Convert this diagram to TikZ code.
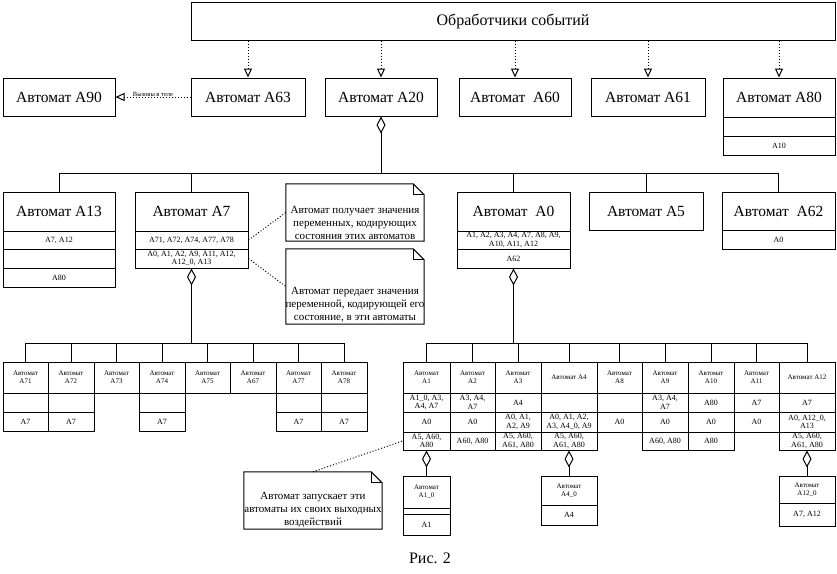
\documentclass[tikz,border=0pt]{standalone}
\usepackage{fontspec}
\setmainfont{Liberation Serif}
\usetikzlibrary{arrows.meta}
\tikzset{every node/.append style={transform shape=false}}
\tikzset{
  wire/.style={line width=1pt},
  cellbox/.style={draw, line width=1pt, inner sep=0.5pt, align=center},
  titlecell/.style={font=\fontsize{15.5}{17}\selectfont},
  headcell/.style={font=\fontsize{16}{18}\selectfont},
  listcell/.style={font=\fontsize{8}{8.5}\selectfont},
  namecell/.style={font=\fontsize{7}{8}\selectfont},
  notetext/.style={anchor=south, align=center, inner sep=1.5pt, font=\fontsize{11}{13}\selectfont},
  call/.style={wire, dotted, -{Triangle[open,width=8pt,length=9pt]}},
  agg/.style={wire, {Diamond[open,width=9pt,length=17pt]}-},
}
\newcommand{\cell}[7][]{%
  \pgfmathsetmacro{\cellw}{#5-#3}%
  \pgfmathsetmacro{\cellh}{#6-#4}%
  \node[cellbox, #1, minimum width=\cellw pt, minimum height=\cellh pt] (#2) at ({(#3+#5)/2},{(#4+#6)/2}) {#7};}
\newcommand{\commentbox}[6]{%
  \pgfmathsetmacro{\cellw}{#4-#2}%
  \pgfmathsetmacro{\cellh}{#5-#3}%
  \node[minimum width=\cellw pt, minimum height=\cellh pt, inner sep=0pt,
    label={[notetext]south:{#6}}] (#1) at ({(#2+#4)/2},{(#3+#5)/2}) {};
  \draw[wire] (#1.south west) -- (#1.north west) -- ([xshift=-11pt]#1.north east)
    -- ([yshift=-11pt]#1.north east) -- (#1.south east) -- cycle;
  \draw[wire] ([xshift=-11pt]#1.north east) |- ([yshift=-11pt]#1.north east);}

\begin{document}
\begin{tikzpicture}[x=1pt,y=-1pt]
\useasboundingbox (0,0) rectangle (837,573);
\cell[headcell]{handlers}{191}{2}{835}{40}{Обработчики событий}
% first row
\cell[titlecell]{a90}{3}{78}{115}{116}{Автомат A90}
\cell[titlecell]{a63}{191}{78}{305}{116}{Автомат A63}
\cell[titlecell]{a20}{325}{78}{437}{116}{Автомат A20}
\cell[titlecell]{a60}{459}{78}{571}{116}{Автомат\ \ A60}
\cell[titlecell]{a61}{591}{78}{705}{116}{Автомат A61}
\cell[titlecell]{a80}{723}{78}{835}{117}{Автомат A80}
\cell[listcell]{a80r1}{723}{117}{835}{136}{}
\cell[listcell]{a80r2}{723}{136}{835}{155}{A10}
\draw[call] (handlers.south -| a63.north) -- (a63.north);
\draw[call] (handlers.south -| a20.north) -- (a20.north);
\draw[call] (handlers.south -| a60.north) -- (a60.north);
\draw[call] (handlers.south -| a61.north) -- (a61.north);
\draw[call] (handlers.south -| a80.north) -- (a80.north);
\draw[call] (a63.west) -- node[above=-1pt, inner sep=1pt, font=\fontsize{6.5}{7}\selectfont] (calllabel) {Вызовы в теле} (a90.east);
% second row
\cell[titlecell]{a13}{3}{192}{115}{231}{Автомат A13}
\cell[listcell]{a13r1}{3}{231}{115}{249}{A7, A12}
\cell[listcell]{a13r2}{3}{249}{115}{268}{}
\cell[listcell]{a13r3}{3}{268}{115}{287}{A80}
\cell[titlecell]{a7}{135}{192}{248}{231}{Автомат A7}
\cell[listcell]{a7r1}{135}{231}{248}{249}{A71, A72, A74, A77, A78}
\cell[listcell]{a7r2}{135}{249}{248}{268}{A0, A1, A2, A9, A11, A12,\\A12\_0, A13}
\cell[titlecell]{a0}{457}{192}{570}{231}{Автомат\ \ A0}
\cell[listcell]{a0r1}{457}{231}{570}{249}{A1, A2, A3, A4, A7, A8, A9,\\A10, A11, A12}
\cell[listcell]{a0r2}{457}{249}{570}{268}{A62}
\cell[titlecell]{a5}{589}{192}{703}{230}{Автомат A5}
\cell[titlecell]{a62}{722}{192}{835}{230}{Автомат\ \ A62}
\cell[listcell]{a62r1}{722}{230}{835}{249}{A0}
\coordinate (bus1) at (381,173);
\draw[agg] (a20.south) -- (bus1);
\draw[wire] (a13.north) |- (bus1);
\draw[wire] (a7.north) |- (bus1);
\draw[wire] (a0.north) |- (bus1);
\draw[wire] (a5.north) |- (bus1);
\draw[wire] (a62.north) |- (bus1);
% notes
\commentbox{note1}{286}{184}{424}{241}{Автомат получает значения\\переменных, кодирующих\\состояния этих автоматов}
\commentbox{note2}{286}{249}{424}{324}{Автомат передает значения\\переменной, кодирующей его\\состояние, в эти автоматы}
\commentbox{note3}{244}{472}{382}{529}{Автомат запускает эти\\автоматы их своих выходных\\воздействий}
\draw[wire, dotted] (a7r1.east) -- (note1.west);
\draw[wire, dotted] (a7r2.east) -- (note2.west);
% children of A7
\cell[namecell]{a71}{3}{362}{48}{393}{Автомат\\A71}
\cell[listcell]{a71r1}{3}{393}{48}{412}{}
\cell[listcell]{a71r2}{3}{412}{48}{431}{A7}
\cell[namecell]{a72}{48}{362}{94}{393}{Автомат\\A72}
\cell[listcell]{a72r1}{48}{393}{94}{412}{}
\cell[listcell]{a72r2}{48}{412}{94}{431}{A7}
\cell[namecell]{a73}{94}{362}{139}{393}{Автомат\\A73}
\cell[namecell]{a74}{139}{362}{185}{393}{Автомат\\A74}
\cell[listcell]{a74r1}{139}{393}{185}{412}{}
\cell[listcell]{a74r2}{139}{412}{185}{431}{A7}
\cell[namecell]{a75}{185}{362}{230}{393}{Автомат\\A75}
\cell[namecell]{a67}{230}{362}{276}{393}{Автомат\\A67}
\cell[namecell]{a77}{276}{362}{321}{393}{Автомат\\A77}
\cell[listcell]{a77r1}{276}{393}{321}{412}{}
\cell[listcell]{a77r2}{276}{412}{321}{431}{A7}
\cell[namecell]{a78}{321}{362}{367}{393}{Автомат\\A78}
\cell[listcell]{a78r1}{321}{393}{367}{412}{}
\cell[listcell]{a78r2}{321}{412}{367}{431}{A7}
\coordinate (bus2) at (191.5,343);
\draw[agg] (a7r2.south) -- (bus2);
\draw[wire] (a71.north) |- (bus2);
\draw[wire] (a72.north) |- (bus2);
\draw[wire] (a73.north) |- (bus2);
\draw[wire] (a74.north) |- (bus2);
\draw[wire] (a75.north) |- (bus2);
\draw[wire] (a67.north) |- (bus2);
\draw[wire] (a77.north) |- (bus2);
\draw[wire] (a78.north) |- (bus2);
% children of A0
\cell[namecell]{a1}{403}{362}{450}{393}{Автомат\\A1}
\cell[listcell]{a1r1}{403}{393}{450}{412}{A1\_0, A3,\\A4, A7}
\cell[listcell]{a1r2}{403}{412}{450}{432}{A0}
\cell[listcell]{a1r3}{403}{432}{450}{450}{A5, A60,\\A80}
\cell[namecell]{a2}{450}{362}{495}{393}{Автомат\\A2}
\cell[listcell]{a2r1}{450}{393}{495}{412}{A3, A4,\\A7}
\cell[listcell]{a2r2}{450}{412}{495}{432}{A0}
\cell[listcell]{a2r3}{450}{432}{495}{450}{A60, A80}
\cell[namecell]{a3}{495}{362}{541}{393}{Автомат\\A3}
\cell[listcell]{a3r1}{495}{393}{541}{412}{A4}
\cell[listcell]{a3r2}{495}{412}{541}{432}{A0, A1,\\A2, A9}
\cell[listcell]{a3r3}{495}{432}{541}{450}{A5, A60,\\A61, A80}
\cell[namecell]{a4}{541}{362}{597}{393}{Автомат A4}
\cell[listcell]{a4r1}{541}{393}{597}{412}{}
\cell[listcell]{a4r2}{541}{412}{597}{432}{A0, A1, A2,\\A3, A4\_0, A9}
\cell[listcell]{a4r3}{541}{432}{597}{450}{A5, A60,\\A61, A80}
\cell[namecell]{a8}{597}{362}{642}{393}{Автомат\\A8}
\cell[listcell]{a8r1}{597}{393}{642}{412}{}
\cell[listcell]{a8r2}{597}{412}{642}{432}{A0}
\cell[namecell]{a9}{642}{362}{688}{393}{Автомат\\A9}
\cell[listcell]{a9r1}{642}{393}{688}{412}{A3, A4,\\A7}
\cell[listcell]{a9r2}{642}{412}{688}{432}{A0}
\cell[listcell]{a9r3}{642}{432}{688}{450}{A60, A80}
\cell[namecell]{a10}{688}{362}{734}{393}{Автомат\\A10}
\cell[listcell]{a10r1}{688}{393}{734}{412}{A80}
\cell[listcell]{a10r2}{688}{412}{734}{432}{A0}
\cell[listcell]{a10r3}{688}{432}{734}{450}{A80}
\cell[namecell]{a11}{734}{362}{779}{393}{Автомат\\A11}
\cell[listcell]{a11r1}{734}{393}{779}{412}{A7}
\cell[listcell]{a11r2}{734}{412}{779}{432}{A0}
\cell[namecell]{a12}{779}{362}{835}{393}{Автомат A12}
\cell[listcell]{a12r1}{779}{393}{835}{412}{A7}
\cell[listcell]{a12r2}{779}{412}{835}{432}{A0, A12\_0,\\A13}
\cell[listcell]{a12r3}{779}{432}{835}{450}{A5, A60,\\A61, A80}
\coordinate (bus3) at (513.5,343);
\draw[agg] (a0r2.south) -- (bus3);
\draw[wire] (a1.north) |- (bus3);
\draw[wire] (a2.north) |- (bus3);
\draw[wire] (a3.north) |- (bus3);
\draw[wire] (a4.north) |- (bus3);
\draw[wire] (a8.north) |- (bus3);
\draw[wire] (a9.north) |- (bus3);
\draw[wire] (a10.north) |- (bus3);
\draw[wire] (a11.north) |- (bus3);
\draw[wire] (a12.north) |- (bus3);
% nested automata
\cell[namecell]{a1zero}{403}{476}{450}{508}{Автомат\\A1\_0}
\cell[listcell]{a1zeror1}{403}{508}{450}{514}{}
\cell[listcell]{a1zeror2}{403}{514}{450}{535}{A1}
\cell[namecell]{a4zero}{541}{476}{597}{505}{Автомат\\A4\_0}
\cell[listcell]{a4zeror1}{541}{505}{597}{525}{A4}
\cell[namecell]{a12zero}{779}{476}{835}{503}{Автомат\\A12\_0}
\cell[listcell]{a12zeror1}{779}{503}{835}{526}{A7, A12}
\draw[agg] (a1r3.south) -- (a1zero.north);
\draw[agg] (a4r3.south) -- (a4zero.north);
\draw[agg] (a12r3.south) -- (a12zero.north);
\draw[wire, dotted] (note3.north) -- (a1r3.west);
\node[headcell] (caption) at (430,558) {Рис. 2};
\end{tikzpicture}
\end{document}
